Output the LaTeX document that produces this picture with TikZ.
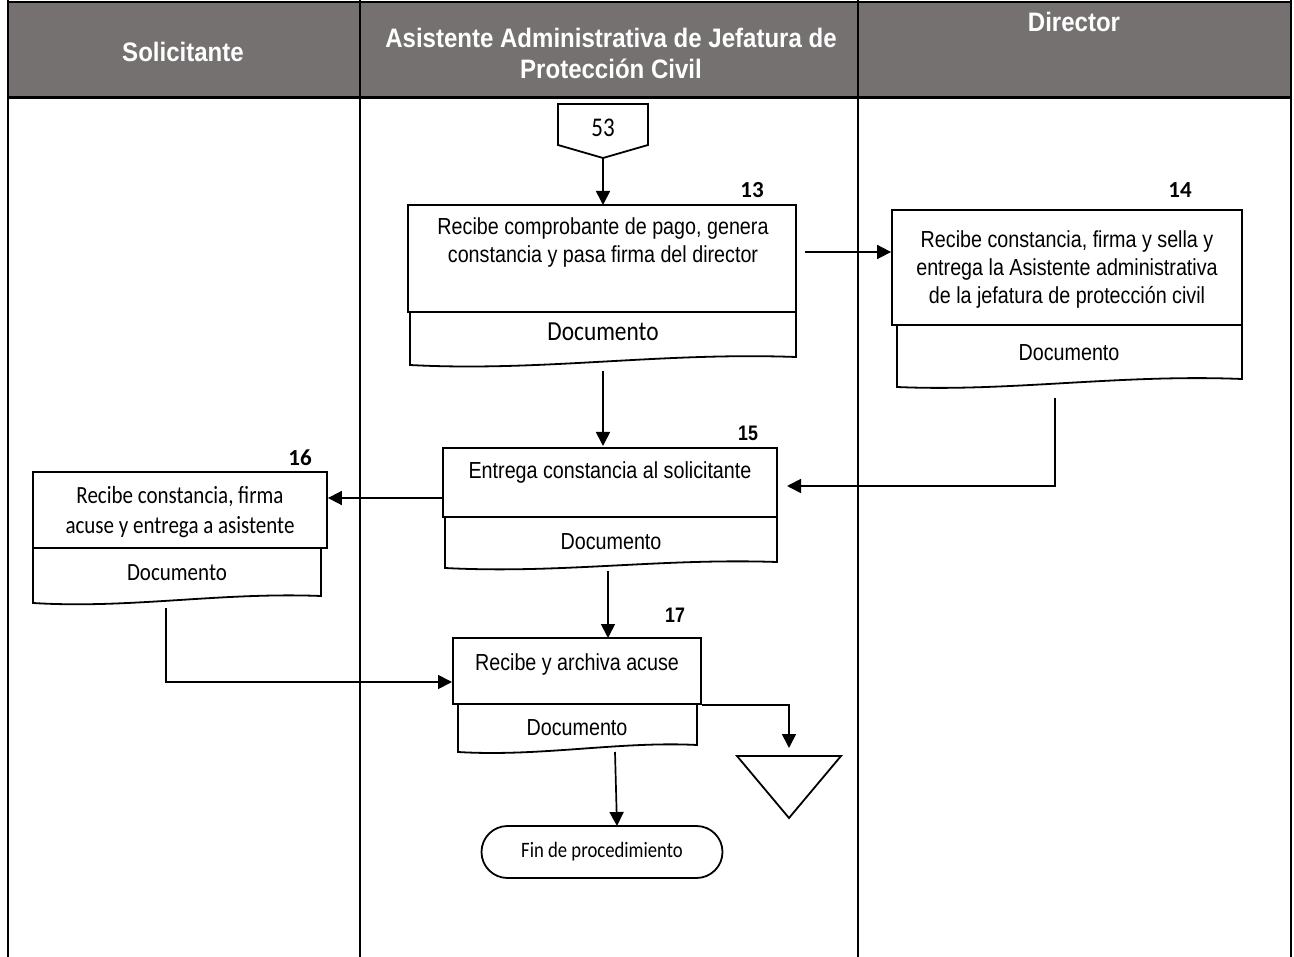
\documentclass[tikz,border=0pt]{standalone}
\usepackage{fontspec}
\setmainfont{Liberation Sans}
\newfontfamily\arn{Liberation Sans}[FakeStretch=0.85]
\newfontfamily\hdf{Liberation Sans}[FakeStretch=0.9]
\newfontfamily\carl{Carlito}[FakeStretch=0.85]
\newfontfamily\carlb{Carlito}
\usetikzlibrary{arrows.meta,calc}
\definecolor{hdr}{RGB}{118,113,113}
\begin{document}
\begin{tikzpicture}[x=1pt,y=-1pt,
  arr/.style={line width=1.7pt,-{Triangle[length=14pt,width=14pt]}},
  box/.style={draw,line width=1.8pt,rectangle,inner sep=0pt},
  docshape/.style={draw,line width=1.8pt},
  lane/.style={line width=2pt},
  ar/.style={font=\arn\fontsize{23.2}{28}\selectfont,align=center,inner sep=0pt},
  ca/.style={font=\carl\fontsize{24.7}{30}\selectfont,align=center,inner sep=0pt},
  hd/.style={font=\hdf\bfseries\fontsize{26.7}{31}\selectfont,text=white,align=center,inner sep=0pt},
  numc/.style={font=\carlb\bfseries\fontsize{23}{23}\selectfont,inner sep=0pt},
  numa/.style={font=\arn\bfseries\fontsize{21}{21}\selectfont,inner sep=0pt}]
\useasboundingbox (0,0) rectangle (1294,957);
% header
\fill[hdr] (8,2) rectangle (1291,98);
\draw[lane] (8,2) -- (1291,2);
\draw[lane] (8,0) -- (8,957);
\draw[lane] (360,0) -- (360,957);
\draw[lane] (858,0) -- (858,957);
\draw[lane] (1291,0) -- (1291,957);
\draw[line width=3pt] (8,98) -- (1291,98);
\node[hd] (h1) at (183,52) {Solicitante};
\node[hd] (h2) at (611,53) {Asistente Administrativa de Jefatura de\\Protección Civil};
\node[hd] (h3) at (1074,22) {Director};

% off-page connector 53
\draw[docshape] (558,104) -- (648,104) -- (648,145) -- (603,158) -- (558,145) -- cycle;
\node[font=\carl\fontsize{27}{27}\selectfont,inner sep=0pt] (n53) at (603,128) {53};
\coordinate (c53) at (603,158);

% box 13
\node[box,minimum width=388pt,minimum height=107pt] (b13) at (602,258.5) {};
\node[ar] (t13) at (603,243) {Recibe comprobante de pago, genera\\constancia y pasa firma del director};
\draw[docshape] (410,312) -- (796,312) -- (796,357) .. controls (660,352) and (540,372) .. (410,365) -- cycle;
\node[font=\carl\fontsize{27.5}{30}\selectfont,inner sep=0pt] (dt13) at (603,332) {Documento};
\coordinate (d13b) at (603,371);
\node[numc] (n13) at (752,190) {13};

% box 14
\node[box,minimum width=350pt,minimum height=115pt] (b14) at (1067,267.5) {};
\node[ar] (t14) at (1067,270) {Recibe constancia, firma y sella y\\entrega la Asistente administrativa\\de la jefatura de protección civil};
\draw[docshape] (897,325) -- (1242,325) -- (1242,379) .. controls (1120,374) and (1010,392) .. (897,387) -- cycle;
\node[ar] (dt14) at (1069,353) {Documento};
\coordinate (d14b) at (1055,398);
\node[numc] (n14) at (1180,190) {14};

% box 15
\node[box,minimum width=334pt,minimum height=69pt] (b15) at (610,482.5) {};
\node[ar] (t15) at (610,473) {Entrega constancia al solicitante};
\draw[docshape] (445,517) -- (777,517) -- (777,562) .. controls (660,558) and (560,574) .. (445,568) -- cycle;
\node[ar] (dt15) at (611,542) {Documento};
\coordinate (d15b) at (608,571);
\node[numa] (n15) at (748,433) {15};

% box 16
\node[box,minimum width=294pt,minimum height=76pt] (b16) at (180,510) {};
\node[ca] (t16) at (180,512) {Recibe constancia, firma\\acuse y entrega a asistente};
\draw[docshape] (33,548) -- (321,548) -- (321,596) .. controls (220,592) and (130,609) .. (33,603) -- cycle;
\node[ca] (dt16) at (177,573) {Documento};
\coordinate (d16b) at (166,608);
\node[numc] (n16) at (300,458) {16};

% box 17
\node[box,minimum width=248pt,minimum height=66pt] (b17) at (577,671) {};
\node[ar] (t17) at (577,665) {Recibe y archiva acuse};
\draw[docshape] (458,704) -- (697,704) -- (697,745) .. controls (620,741) and (540,757) .. (458,752) -- cycle;
\node[ar] (dt17) at (577,728) {Documento};
\coordinate (d17b) at (615,752);
\node[numa] (n17) at (675,615) {17};

% archive triangle
\draw[docshape] (737,756) -- (841,756) -- (789,818) -- cycle;
\coordinate (tri) at (789,756);

% terminal
\node[draw,line width=1.8pt,rounded corners=26pt,minimum width=241pt,minimum height=52pt,inner sep=0pt,font=\carl\fontsize{22}{22}\selectfont] (fin) at (602,852) {Fin de procedimiento};
\coordinate (finin) at (617,826);

% connectors
\draw[arr] (c53) -- (603,205);
\coordinate (a13) at (805,252);
\draw[arr] (a13) -- (a13 -| b14.west);
\draw[arr] (d13b) -- (603,446);
\coordinate (e15) at (787,486);
\draw[arr] (d14b) |- (e15);
\coordinate (w15) at (443,498);
\draw[arr] (w15) -- (w15 -| b16.east);
\coordinate (w17) at (452,682);
\draw[arr] (d16b) |- (w17);
\draw[arr] (d15b) -- (608,638);
\draw[arr] (b17.south east) -| ($(tri)+(0,-8)$);
\draw[arr] (d17b) -- (finin);
\end{tikzpicture}
\end{document}
